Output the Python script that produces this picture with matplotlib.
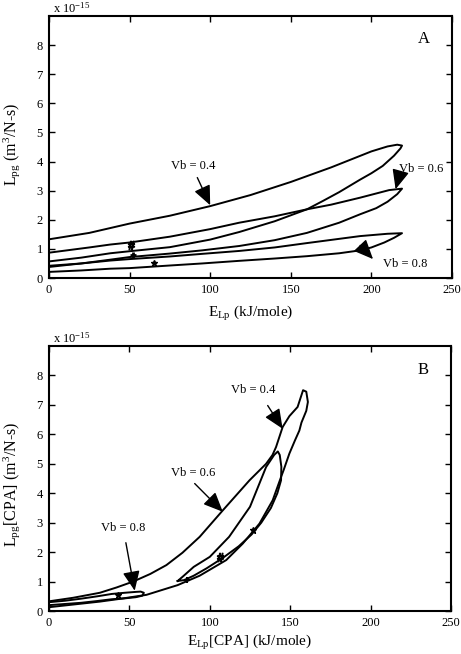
import matplotlib
matplotlib.use("Agg")
import matplotlib.pyplot as plt

plt.rcParams["font.family"] = "Liberation Serif"
plt.rcParams["mathtext.fontset"] = "custom"
plt.rcParams["mathtext.rm"] = "Liberation Serif"
plt.rcParams["mathtext.it"] = "Liberation Serif:italic"

# ---- panel A: Lpg vs ELp (values in 1e-15 m^3/N-s) ----
a04_x = [0, 25, 50, 75, 100, 125, 150, 175, 200, 210, 216, 219,
         218, 214, 207, 200, 193, 180, 170, 160, 140, 118, 100, 75, 50, 38, 20, 0]
a04_y = [1.33, 1.55, 1.87, 2.14, 2.47, 2.85, 3.3, 3.8, 4.35, 4.52, 4.58, 4.55,
         4.45, 4.2, 3.85, 3.6, 3.38, 2.95, 2.65, 2.36, 1.95, 1.58, 1.32, 1.06, 0.92, 0.85, 0.7, 0.57]

a06_x = [0, 25, 38, 50, 75, 100, 118, 140, 160, 175, 193, 211, 219,
         216, 210, 203, 193, 180, 160, 140, 118, 95, 75, 50, 38, 20, 0]
a06_y = [0.87, 1.05, 1.15, 1.22, 1.42, 1.68, 1.9, 2.12, 2.36, 2.52, 2.76, 3.02, 3.07,
         2.88, 2.62, 2.4, 2.19, 1.9, 1.55, 1.3, 1.1, 0.95, 0.84, 0.72, 0.63, 0.5, 0.42]

a08_x = [0, 20, 38, 50, 75, 95, 118, 140, 160, 193, 210, 219,
         214, 208, 200, 193, 180, 160, 140, 118, 95, 75, 50, 38, 20, 0]
a08_y = [0.38, 0.5, 0.6, 0.65, 0.74, 0.83, 0.93, 1.05, 1.2, 1.44, 1.52, 1.54,
         1.38, 1.22, 1.05, 0.95, 0.85, 0.75, 0.67, 0.59, 0.5, 0.43, 0.34, 0.32, 0.26, 0.21]

a_hash = (51, 1.12)
a_plus = (52.3, 0.8)
a_star = (65.3, 0.53)

# ---- panel B: Lpg[CPA] vs ELp[CPA] ----
b04_x = [0, 15, 31.6, 42, 52.3, 63, 73, 83, 93.7, 108.1, 124.7, 135, 139, 141.2, 145.3,
         149.5, 154.6, 158,
         160, 161, 160, 157, 155.7, 153, 149.5, 146, 144.3, 139.1, 130.9, 120.5, 110.2, 93.7,
         80, 60.6, 45, 31.6, 15, 0]
b04_y = [0.33, 0.45, 0.62, 0.8, 1.0, 1.26, 1.56, 1.98, 2.52, 3.42, 4.44, 5.0, 5.3, 5.57, 6.25,
         6.62, 6.93, 7.5,
         7.45, 7.1, 6.8, 6.4, 6.13, 5.8, 5.35, 4.8, 4.55, 3.76, 2.97, 2.29, 1.73, 1.2,
         0.88, 0.55, 0.42, 0.32, 0.22, 0.13]

b06_x = [80, 83, 90, 100, 112, 125, 135, 140, 142.3,
         143.5, 144.5, 144.3, 142, 138, 132, 126, 118, 108, 98, 90, 84, 80]
b06_y = [1.02, 1.16, 1.5, 1.84, 2.52, 3.54, 4.89, 5.3, 5.42,
         5.3, 4.9, 4.44, 4.0, 3.5, 3.0, 2.6, 2.2, 1.8, 1.45, 1.2, 1.05, 1.02]

b08_x = [0, 10, 20, 30, 39, 47, 54, 57, 59,
         58, 54, 47, 39, 30, 20, 10, 0]
b08_y = [0.3, 0.35, 0.42, 0.5, 0.58, 0.62, 0.65, 0.66, 0.62,
         0.52, 0.47, 0.43, 0.4, 0.34, 0.28, 0.24, 0.2]

b_star = [(43, 0.54), (126.7, 2.75)]
b_plus = (85.8, 1.05)
b_hash = (106.5, 1.85)

# label: text position, arrow tail, arrow tip
a_notes = [("Vb = 0.4", (89.5, 3.84), (92, 3.45), (100, 2.5)),
           ("Vb = 0.6", (231, 3.75), (217, 3.45), (215, 3.05)),
           ("Vb = 0.8", (221, 0.47), (193, 1.12), (201, 0.65))]
b_notes = [("Vb = 0.4", (126.7, 7.5), (136, 6.98), (145.3, 6.19)),
           ("Vb = 0.6", (89.5, 4.7), (90.6, 4.33), (108.1, 3.37)),
           ("Vb = 0.8", (46, 2.83), (47.8, 2.32), (53.3, 0.69))]


def style_axes(ax, letter, xlabel, ylabel, ylab_y, xlab_y):
    ax.set_xlim(0, 250)
    ax.set_ylim(0, 9)
    ax.set_xticks([0, 50, 100, 150, 200, 250])
    ax.set_yticks(range(9))
    ax.tick_params(direction="in", length=4, width=1, top=True, right=True,
                   labelsize=9, pad=4.5)
    for s in ax.spines.values():
        s.set_linewidth(1.5)
    ax.set_xlabel(xlabel, fontsize=11)
    ax.set_ylabel(ylabel, fontsize=11.5)
    ax.yaxis.set_label_coords(-0.068, ylab_y)
    ax.xaxis.set_label_coords(0.5, xlab_y)
    ax.text(232.5, 8.2, letter, fontsize=12, ha="center", va="center")
    ax.text(0.01, 1.003, r"x 10$^{-15}$", transform=ax.transAxes, fontsize=9,
            ha="left", va="bottom")


def draw_notes(ax, notes):
    for label, txt, tail, tip in notes:
        ax.text(txt[0], txt[1], label, fontsize=9, ha="center", va="center")
        ax.annotate("", xy=tip, xytext=tail,
                    arrowprops=dict(arrowstyle="-|>,head_length=0.8,head_width=0.35",
                                    mutation_scale=15, color="k", lw=1,
                                    shrinkA=0, shrinkB=0))


fig = plt.figure(figsize=(4.61, 6.54), dpi=100)
ax1 = fig.add_axes([0.1063, 0.5749, 0.8742, 0.4006])
ax2 = fig.add_axes([0.1063, 0.0657, 0.872, 0.4052])

for xs, ys in [(a04_x, a04_y), (a06_x, a06_y), (a08_x, a08_y)]:
    ax1.plot(xs, ys, color="k", lw=1.4)
ax1.plot(*a_hash, marker=r"$\#$", ms=6, color="k", ls="none")
ax1.plot(*a_plus, marker="+", ms=5, mew=2, color="k", ls="none")
ax1.plot(*a_star, marker="*", ms=5, color="k", ls="none")
draw_notes(ax1, a_notes)
style_axes(ax1, "A", r"E$_{\rm Lp}$ (kJ/mole)", r"L$_{\rm pg}$ (m$^3$/N-s)", 0.51, -0.1)

for xs, ys in [(b04_x, b04_y), (b06_x, b06_y), (b08_x, b08_y)]:
    ax2.plot(xs, ys, color="k", lw=1.4)
ax2.plot([p[0] for p in b_star], [p[1] for p in b_star], marker="*", ms=5,
         color="k", ls="none")
ax2.plot(*b_plus, marker="+", ms=5, mew=1.5, color="k", ls="none")
ax2.plot(*b_hash, marker=r"$\#$", ms=6, color="k", ls="none")
draw_notes(ax2, b_notes)
style_axes(ax2, "B", r"E$_{\rm Lp}$[CPA] (kJ/mole)",
           r"L$_{\rm pg}$[CPA] (m$^3$/N-s)", 0.48, -0.083)

fig.savefig("out.png", dpi=100)
